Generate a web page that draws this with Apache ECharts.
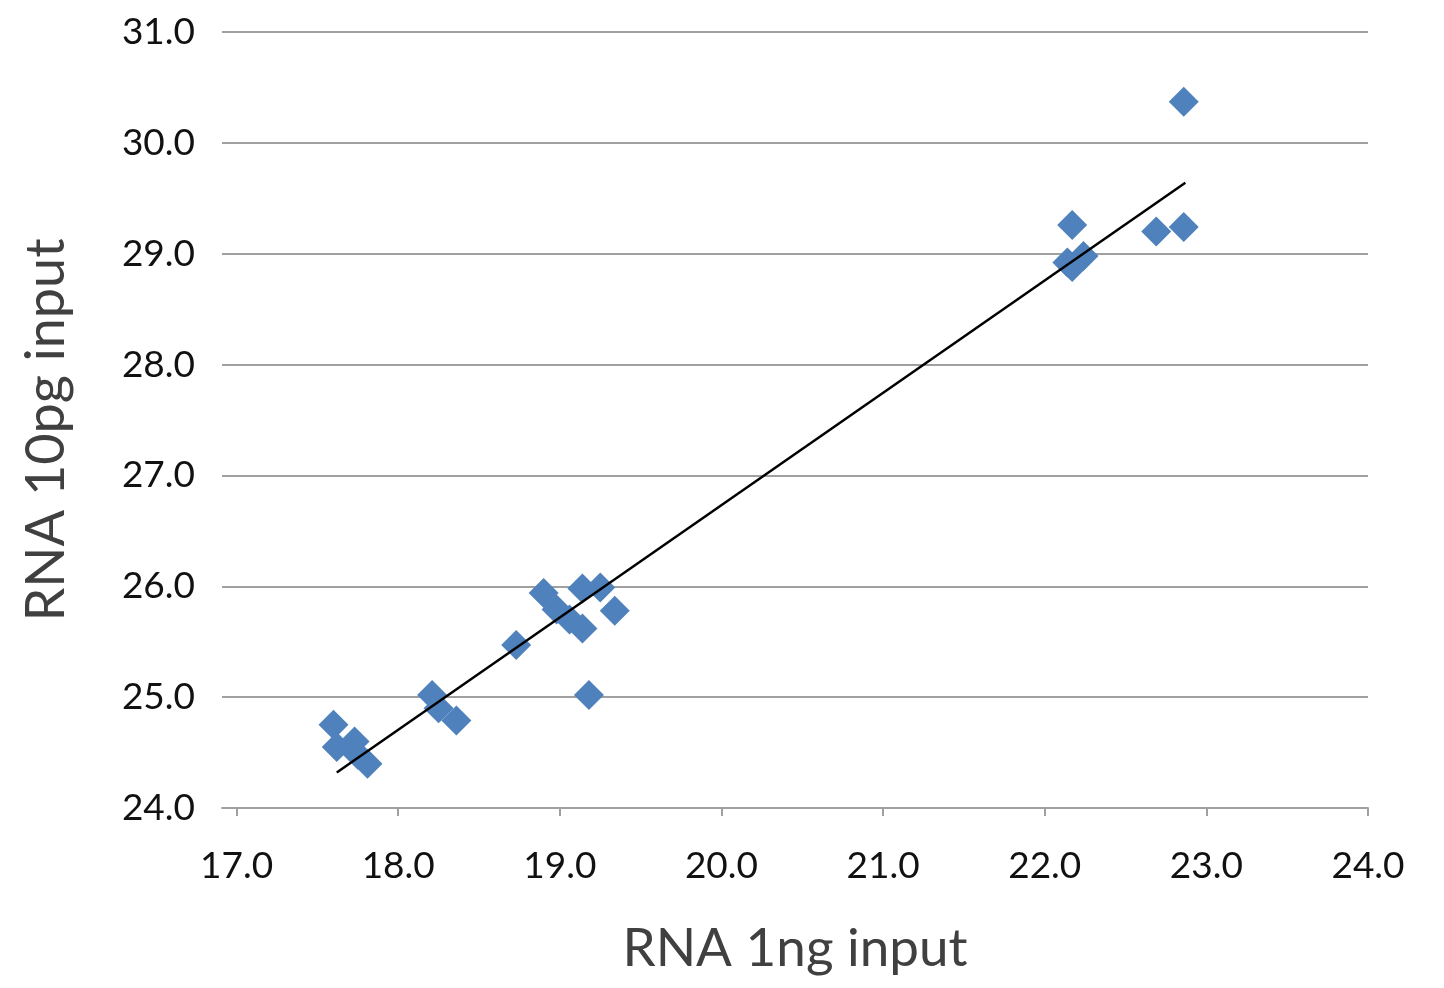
<!DOCTYPE html>
<html>
<head>
<meta charset="utf-8">
<script src="https://cdn.jsdelivr.net/npm/echarts@6/dist/echarts.min.js"></script>
<style>html,body{margin:0;padding:0;background:#fff}#c{width:1444px;height:988px}</style>
</head>
<body>
<div id="c"></div>
<script>
const xTicks = [17, 18, 19, 20, 21, 22, 23, 24];
const xValues = [17.60, 17.62, 17.73, 17.75, 17.81, 18.21, 18.25, 18.36, 18.73, 18.90, 18.98, 19.06, 19.14, 19.25, 19.34, 19.14, 19.18, 22.17, 22.14, 22.24, 22.17, 22.69, 22.86, 22.86];
const yValues = [24.75, 24.55, 24.60, 24.48, 24.40, 25.02, 24.90, 24.79, 25.47, 25.94, 25.79, 25.70, 25.98, 25.99, 25.78, 25.62, 25.02, 29.26, 28.92, 28.98, 28.88, 29.20, 29.24, 30.37];
const trendX = [17.62, 22.87];
const trendY = [24.32, 29.64];

const points = xValues.map((x, i) => [x, yValues[i]]);
const trend = trendX.map((x, i) => [x, trendY[i]]);
const font = 'Lato, "Open Sans", sans-serif';

const chart = echarts.init(document.getElementById('c'), null, {renderer: 'canvas'});
chart.setOption({
  animation: false,
  backgroundColor: '#ffffff',
  grid: {left: 222, right: 76, top: 32, bottom: 180, containLabel: false},
  xAxis: {
    type: 'value', min: 16.91, max: 24,
    name: 'RNA 1ng input', nameLocation: 'middle', nameGap: 114,
    nameTextStyle: {fontFamily: font, fontSize: 53, color: '#404040'},
    axisLine: {show: true, lineStyle: {color: '#a0a0a0', width: 2}},
    axisTick: {show: true, customValues: xTicks, length: 8, lineStyle: {color: '#a0a0a0', width: 2}},
    axisLabel: {customValues: xTicks, formatter: v => v.toFixed(1), fontFamily: font, fontSize: 37, color: '#111111', margin: 40},
    splitLine: {show: false}
  },
  yAxis: {
    type: 'value', min: 24, max: 31, interval: 1,
    name: 'RNA 10pg input', nameLocation: 'middle', nameGap: 148, nameRotate: 90,
    nameTextStyle: {fontFamily: font, fontSize: 54, color: '#404040', padding: [0, 20, 0, 0]},
    axisLine: {show: false},
    axisTick: {show: false},
    axisLabel: {formatter: v => v.toFixed(1), fontFamily: font, fontSize: 37, color: '#111111', margin: 27},
    splitLine: {show: true, lineStyle: {color: '#a0a0a0', width: 2}}
  },
  series: [
    {
      type: 'scatter', data: points, symbol: 'diamond', symbolSize: 30,
      itemStyle: {color: '#4f81bd', opacity: 1}, z: 2
    },
    {
      type: 'line', data: trend, symbol: 'none',
      lineStyle: {color: '#000000', width: 2.5}, z: 3
    }
  ]
});
</script>
</body>
</html>
